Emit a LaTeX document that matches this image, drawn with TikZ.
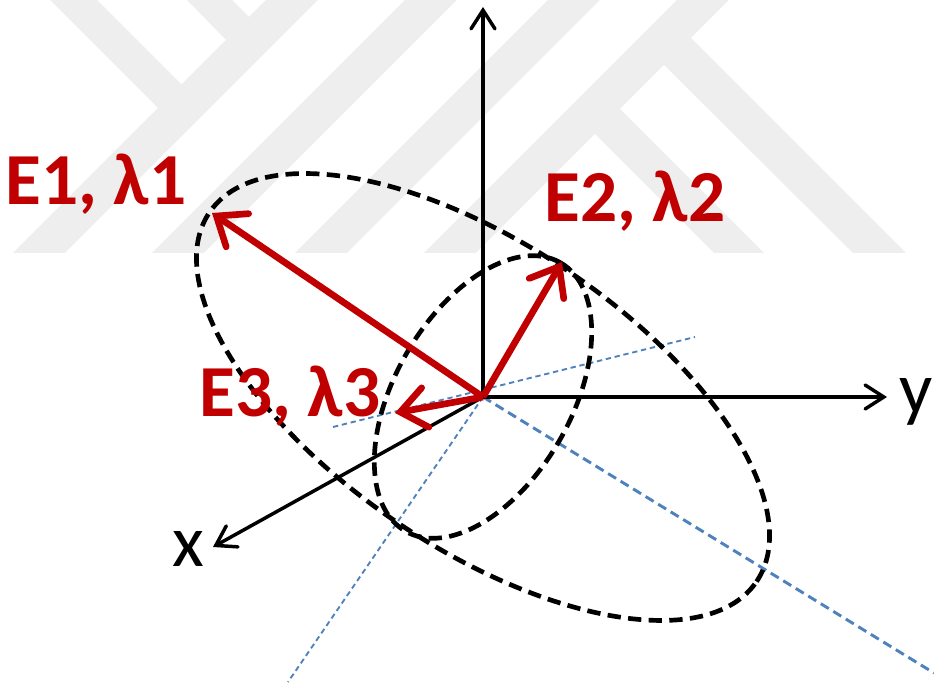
\documentclass[tikz,border=0pt]{standalone}
\usepackage{fontspec}
\setmainfont{Carlito}
\definecolor{Eig}{RGB}{192,0,0}
\definecolor{Guide}{RGB}{79,129,189}
\definecolor{Mark}{RGB}{238,238,238}
\usetikzlibrary{arrows.meta}

\begin{document}
\begin{tikzpicture}[x=0.75pt,y=0.75pt,
    axis/.style={line width=2.6pt,-{Straight Barb[length=14pt,width=18pt,line cap=round]}},
    vec/.style={draw=Eig,line width=5pt,-{Straight Barb[length=19pt,width=30pt,line cap=round]}},
    shell/.style={line width=3.5pt,dash pattern=on 10pt off 5.5pt},
    guide/.style={draw=Guide,line width=1.4pt,dash pattern=on 4pt off 2.8pt},
    lab/.style={font=\fontsize{55}{60}\selectfont\bfseries,text=Eig,inner sep=0pt,anchor=base west},
    axl/.style={font=\fontsize{55}{60}\selectfont,inner sep=0pt,anchor=base west}]
  \useasboundingbox (0,0) rectangle (934,691);
  % faint mark behind
  \foreach \a in {266,405,548,677}
    \fill[Mark] (\a,691) -- ++(52,0) -- ++(-253,-253) -- ++(-52,0) -- cycle;
  \fill[Mark] (50,691) -- (97,691) -- (182,606) -- (158,583) -- cycle;
  \fill[Mark] (187,691) -- (232,691) -- (249,674) -- (226,651) -- cycle;
  \fill[Mark] (663,627) -- (690,654) -- (906,438) -- (853,438) -- cycle;
  \fill[Mark] (594,558) -- (619,583) -- (764,438) -- (714,438) -- cycle;

  \coordinate (O) at (483,294);
  \coordinate (ztip) at (483,684);
  \coordinate (ytip) at (887,294);
  \coordinate (xtip) at (213,144);
  \coordinate (e1) at (212,478);
  \coordinate (e2) at (562,429);
  \coordinate (e3) at (395,278);
  \coordinate (g1a) at (333,264);
  \coordinate (g1b) at (695,354);
  \coordinate (g2) at (934,18);
  \coordinate (g3) at (288,9);

  % principal directions
  \draw[guide] (g1a) -- (g1b);
  \draw[guide,line width=2.2pt,dash pattern=on 7pt off 4pt] (O) -- (g2);
  \draw[guide] (O) -- (g3);

  % ellipsoid sections
  \draw[shell,rotate around={-34:(O)}] (O) ellipse [x radius=330,y radius=152];
  \draw[shell,rotate around={60:(O)}] (O) ellipse [x radius=155,y radius=88];

  % axes
  \draw[axis] (O) -- (ztip);
  \draw[axis] (O) -- (ytip);
  \draw[axis] (O) -- (xtip);
  \node[axl] (xl) at (172,124) {x};
  \node[axl] (yl) at (899,277) {y};

  % eigenvectors
  \draw[vec] (O) -- (e1);
  \draw[vec] (O) -- (e2);
  \draw[vec] (O) -- (e3);
  \node[lab] (l1) at (5,486) {E1, λ1};
  \node[lab] (l2) at (544,469) {E2, λ2};
  \node[lab] (l3) at (199,274) {E3, λ3};
\end{tikzpicture}
\end{document}
